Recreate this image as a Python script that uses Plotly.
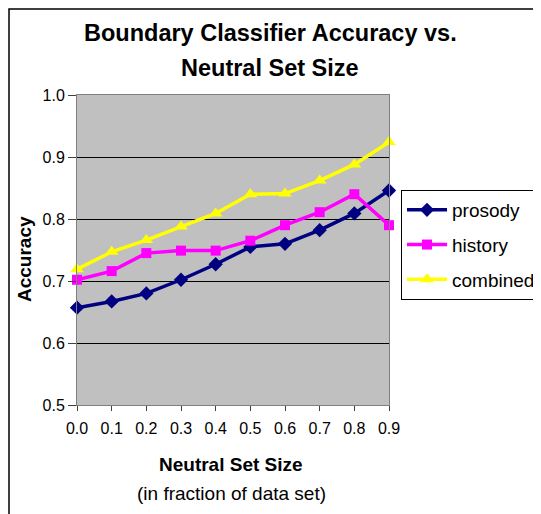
import plotly.graph_objects as go

x_vals = [0.0, 0.1, 0.2, 0.3, 0.4, 0.5, 0.6, 0.7, 0.8, 0.9]
prosody = [0.657, 0.667, 0.680, 0.702, 0.727, 0.755, 0.760, 0.782, 0.809, 0.846]
history = [0.702, 0.716, 0.745, 0.749, 0.749, 0.765, 0.790, 0.811, 0.840, 0.790]
combined = [0.719, 0.747, 0.766, 0.788, 0.809, 0.840, 0.841, 0.862, 0.888, 0.924]
x_tick_labels = ["0.0", "0.1", "0.2", "0.3", "0.4", "0.5", "0.6", "0.7", "0.8", "0.9"]
y_ticks = [0.5, 0.6, 0.7, 0.8, 0.9, 1.0]
y_tick_labels = ["0.5", "0.6", "0.7", "0.8", "0.9", "1.0"]

FONT = "Liberation Sans, Arial, sans-serif"
OFF = 8  # page body margin offset
W, H = 541 - OFF, 514 - OFF
L, T = 77 - OFF, 95 - OFF
R = W - (389 - OFF)
B = H - (405 - OFF)
PW, PH = W - L - R, H - T - B


def px_x(p):
    # p in reference-screen pixels
    return (p - OFF - L) / PW


def px_y(p):
    return (H - B - (p - OFF)) / PH


fig = go.Figure()
series = [
    ("prosody", prosody, "#000080", "diamond", 11),
    ("history", history, "#FF00FF", "square", 10),
    ("combined", combined, "#FFFF00", "triangle-up", 12),
]
for name, vals, color, sym, size in series:
    fig.add_trace(go.Scatter(
        x=x_vals, y=vals, name=name, mode="lines+markers",
        line=dict(color=color, width=3.5),
        marker=dict(color=color, symbol=sym, size=size),
        cliponaxis=False, legendgroup=name,
    ))

fig.update_layout(
    width=W, height=H,
    margin=dict(l=L, r=R, t=T, b=B, pad=0, autoexpand=False),
    paper_bgcolor="white", plot_bgcolor="#C0C0C0",
    font=dict(family=FONT, color="black", size=16),
    showlegend=True,
    legend=dict(
        x=px_x(401), y=px_y(190), xanchor="left", yanchor="top",
        bordercolor="black", borderwidth=1, bgcolor="white",
        font=dict(size=19, family=FONT), tracegroupgap=7, itemwidth=40,
    ),
    xaxis=dict(
        range=[0, 0.9], tickvals=x_vals, ticktext=x_tick_labels,
        showgrid=False, zeroline=False, showline=True, linecolor="#808080",
        linewidth=1, mirror=True, ticks="outside", ticklen=5, tickcolor="#404040",
        tickfont=dict(size=16), ticklabelstandoff=4, automargin=False,
    ),
    yaxis=dict(
        range=[0.5, 1.0], tickvals=y_ticks, ticktext=y_tick_labels,
        showgrid=True, gridcolor="black", gridwidth=1, zeroline=False,
        showline=True, linecolor="#808080", linewidth=1, mirror=True,
        ticks="outside", ticklen=8, tickcolor="#404040",
        tickfont=dict(size=16), automargin=False,
    ),
    annotations=[
        dict(text="<b>Boundary Classifier Accuracy vs.</b>", x=px_x(270), xref="paper",
             xanchor="center", y=px_y(33), yref="paper", yanchor="middle",
             showarrow=False, font=dict(size=23.5, family=FONT)),
        dict(text="<b>Neutral Set Size</b>", x=px_x(270), xref="paper",
             xanchor="center", y=px_y(68), yref="paper", yanchor="middle",
             showarrow=False, font=dict(size=23.5, family=FONT)),
        dict(text="<b>Accuracy</b>", x=px_x(24), xref="paper", xanchor="center",
             y=px_y(259), yref="paper", yanchor="middle", textangle=-90,
             showarrow=False, font=dict(size=19, family=FONT)),
        dict(text="<b>Neutral Set Size</b>", x=px_x(231), xref="paper", xanchor="center",
             y=px_y(464), yref="paper", yanchor="middle",
             showarrow=False, font=dict(size=19, family=FONT)),
        dict(text="(in fraction of data set)", x=px_x(231), xref="paper", xanchor="center",
             y=px_y(493), yref="paper", yanchor="middle",
             showarrow=False, font=dict(size=19, family=FONT)),
    ],
    shapes=[
        dict(type="rect", xref="paper", yref="paper",
             x0=px_x(OFF + 1), x1=px_x(560), y0=px_y(540), y1=px_y(OFF + 1),
             line=dict(color="black", width=1.5), fillcolor="rgba(0,0,0,0)",
             layer="below"),
    ],
)

fig.write_html("out.html")
